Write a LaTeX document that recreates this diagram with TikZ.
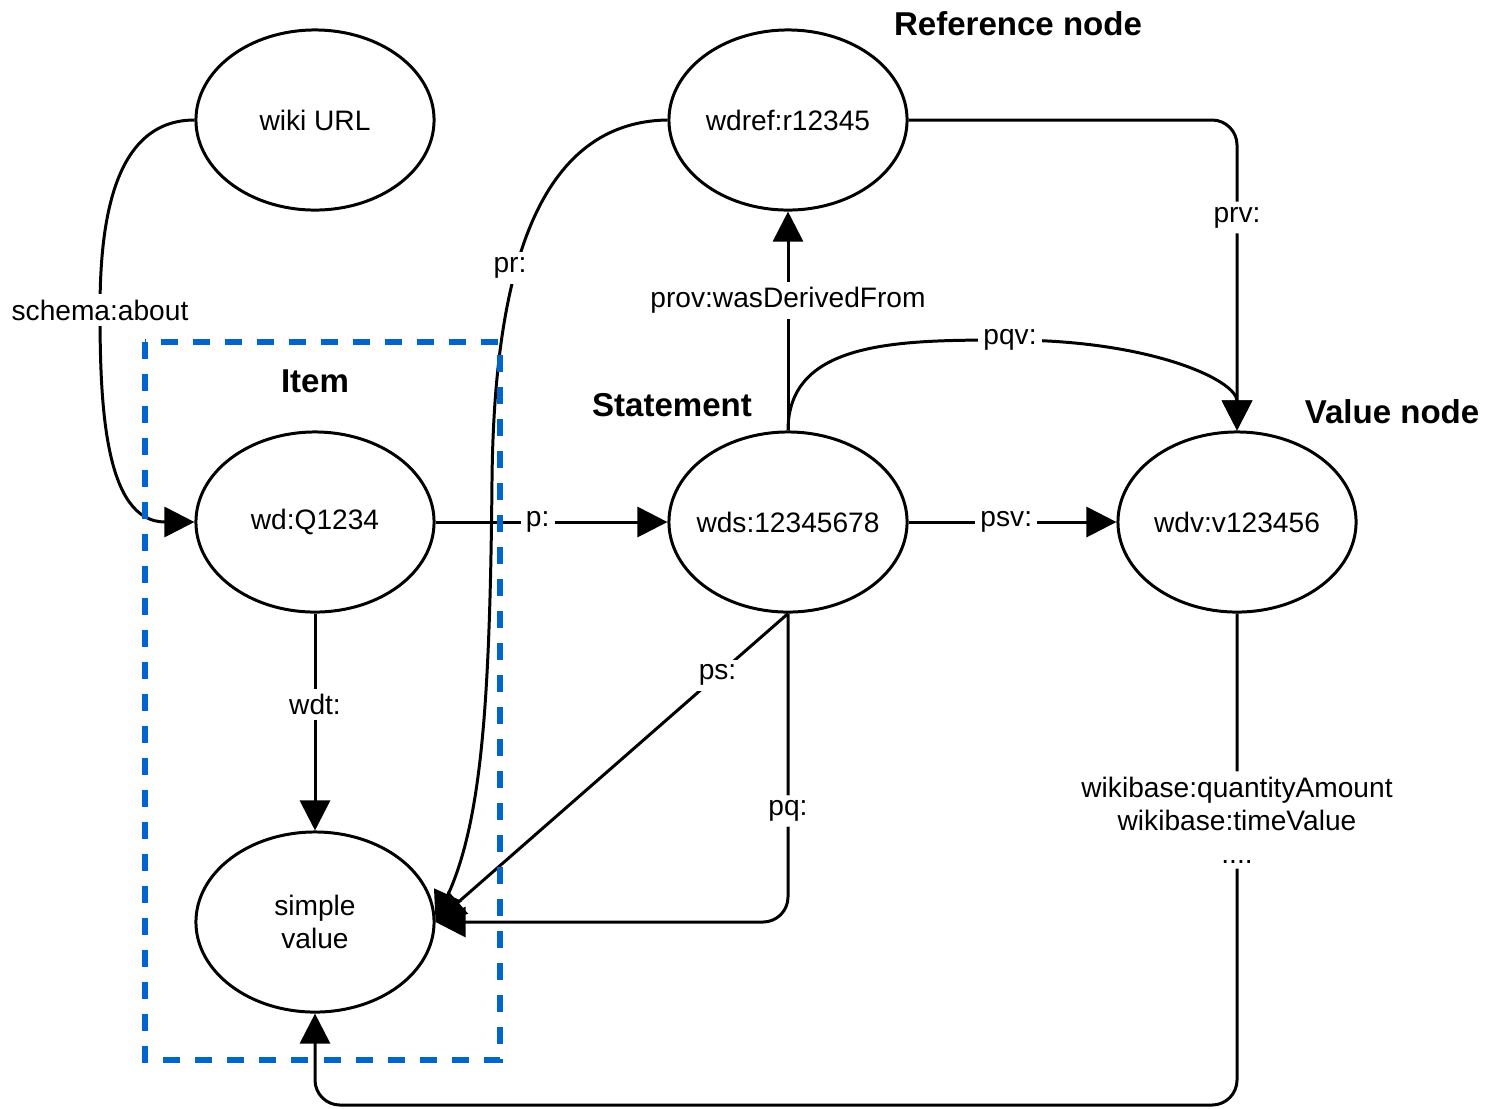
\documentclass[tikz,border=0pt]{standalone}
\usepackage{fontspec}
\setmainfont{Liberation Sans}
\usepackage{xcolor}
\usepackage{tikz}
\usetikzlibrary{positioning,shapes.geometric,arrows.meta}
\definecolor{itemblue}{RGB}{0,102,204}
\newcommand{\restext}[1]{\makebox[0pt][c]{#1}}

\begin{document}
\begin{tikzpicture}[x=0.01cm, y=-0.01cm,
  every node/.style={font=\fontsize{8}{9.4}\selectfont},
  res/.style={ellipse, draw, line width=0.85pt, minimum width=2.38cm, minimum height=1.8cm, inner sep=1pt, align=center},
  rel/.style={line width=0.85pt, -{Triangle[length=0.3cm, width=0.3cm]}},
  lbl/.style={fill=white, inner sep=1.5pt, align=center},
  head/.style={font=\fontsize{9.4}{11}\selectfont\bfseries}
]
  \useasboundingbox (0,0) rectangle (1489,1108);

  % resources
  \node[res] (url) at (315,120) {\restext{wiki URL}};
  \node[res] (ref) at (788,120) {\restext{wdref:r12345}};
  \node[res] (item) at (315,522) {\restext{wd:Q1234}};
  \node[res] (stmt) at (788,522) {\restext{wds:12345678}};
  \node[res] (val) at (1237,522) {\restext{wdv:v123456}};
  \node[res] (simple) at (315,922) {simple\\value};

  \node[head] (refhead) at (1018,24) {Reference node};
  \node[head] (itemhead) at (315,381) {Item};
  \node[head] (stmthead) at (672,405) {Statement};
  \node[head] (valhead) at (1392,412) {Value node};

  % relations
  \draw[rel] (url.west) to[out=180, in=90] (100,310) node[lbl] {schema:about}
    to[out=-90, in=180] (item.west);
  \draw[rel] (ref.west) .. controls (530,122) and (494,290) .. (492,480)
    .. controls (490,700) and (482,820) .. (simple.east);
  \node[lbl] (prlbl) at (510,268) {pr:};
  \draw[rel] (stmt.north) -- node[lbl, pos=0.595] {prov:wasDerivedFrom} (ref.south);
  \draw[rel, rounded corners=0.25cm] (ref.east) -| node[lbl, pos=0.657] {prv:} (val.north);
  \draw[rel] (stmt.north) .. controls (788,340) and (900,340) .. (1010,340) node[lbl] {pqv:}
    .. controls (1150,340) and (1237,380) .. (val.north);
  \draw[rel] (item) -- node[lbl, pos=0.44] {p:} (stmt);
  \draw[rel] (stmt) -- node[lbl, pos=0.47] {psv:} (val);
  \draw[rel] (item) -- node[lbl, pos=0.42] {wdt:} (simple);
  \draw[rel] (stmt.south) -- node[lbl, pos=0.2] {ps:} (simple.east);
  \draw[rel, rounded corners=0.25cm] (stmt.south) |- node[lbl, pos=0.32] {pq:} (simple.east);
  \draw[rel, rounded corners=0.25cm] (val.south) -- node[lbl, pos=0.42]
    {wikibase:quantityAmount\\wikibase:timeValue\\....} (1237,1105) -| (simple.south);

  % item box
  \draw[itemblue, line width=1.7pt, dash pattern=on 0.17cm off 0.15cm] (145,342) rectangle (500,1060);
\end{tikzpicture}
\end{document}
